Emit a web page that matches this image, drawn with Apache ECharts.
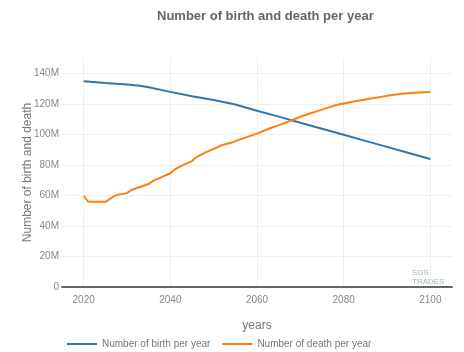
<!DOCTYPE html>
<html>
<head>
<meta charset="utf-8">
<script src="https://cdn.jsdelivr.net/npm/echarts@6/dist/echarts.min.js"></script>
<style>
  html, body { margin: 0; padding: 0; background: #fff; }
  #main { width: 464px; height: 352px; }
</style>
</head>
<body>
<div id="main"></div>
<script>
// births per year (millions)
var birthYears = [2020, 2025, 2030, 2033, 2035, 2040, 2045, 2050, 2055, 2060, 2065, 2070, 2075, 2080, 2085, 2090, 2095, 2100];
var birthValues = [134.7, 133.6, 132.6, 131.8, 130.8, 127.8, 125.0, 122.5, 119.5, 115.5, 111.6, 107.6, 103.7, 99.7, 95.7, 91.8, 87.8, 83.8];

// deaths per year (millions)
var deathYears = [2020, 2021, 2022, 2025, 2026, 2027, 2028, 2030, 2031, 2032, 2034, 2035, 2036, 2038, 2040, 2041, 2043, 2045, 2046, 2048, 2050, 2052, 2054, 2056, 2058, 2060, 2063, 2066, 2068, 2070, 2072, 2075, 2078, 2080, 2083, 2086, 2090, 2093, 2096, 2100];
var deathValues = [59.7, 56.0, 55.8, 55.8, 57.5, 59.5, 60.5, 61.5, 63.5, 64.5, 66.5, 67.5, 69.5, 72.0, 74.5, 77.0, 80.0, 82.5, 85.0, 88.0, 90.5, 93.0, 94.5, 96.5, 98.5, 100.5, 104.0, 107.0, 109.2, 111.5, 113.5, 116.2, 119.0, 120.2, 121.8, 123.3, 125.2, 126.4, 127.2, 127.8];

var xTicks = [2020, 2040, 2060, 2080, 2100];
var yTicks = [0, 20e6, 40e6, 60e6, 80e6, 100e6, 120e6, 140e6];

function pairs(xs, ys) {
    return xs.map(function (x, i) { return [x, ys[i] * 1e6]; });
}

var myChart = echarts.init(document.getElementById('main'));

var option = {
    backgroundColor: '#fff',
    textStyle: { fontFamily: 'Liberation Sans, Arial, sans-serif' },
    title: {
        text: 'Number of birth and death per year',
        left: 152,
        top: 5,
        textStyle: { fontSize: 13, fontWeight: 'bold', color: '#666' }
    },
    grid: { left: 62, right: 12, top: 58, bottom: 65 },
    legend: {
        top: 334,
        left: 62,
        icon: 'rect',
        itemWidth: 30,
        itemHeight: 2,
        itemGap: 12,
        textStyle: { fontSize: 10, color: '#777' },
        data: ['Number of birth per year', 'Number of death per year']
    },
    xAxis: {
        type: 'value',
        min: 2015,
        max: 2105,
        name: 'years',
        nameLocation: 'middle',
        nameGap: 33,
        nameTextStyle: { fontSize: 12, color: '#777' },
        axisLine: { show: true, onZero: false, lineStyle: { color: '#666', width: 2 } },
        axisTick: { show: false, customValues: xTicks },
        axisLabel: {
            customValues: xTicks,
            color: '#888',
            fontSize: 10,
            margin: 8,
            formatter: function (v) { return String(v); }
        },
        splitLine: { show: true, lineStyle: { color: '#eee' } }
    },
    yAxis: {
        type: 'value',
        min: 0,
        max: 150e6,
        name: 'Number of birth and death',
        nameLocation: 'middle',
        nameGap: 28,
        nameMoveOverlap: false,
        nameTextStyle: { fontSize: 12, color: '#777' },
        axisLine: { show: false },
        axisTick: { show: false, customValues: yTicks },
        axisLabel: {
            customValues: yTicks,
            color: '#888',
            fontSize: 10,
            margin: 3,
            formatter: function (v) { return v === 0 ? '0' : (v / 1e6) + 'M'; }
        },
        splitLine: { show: true, lineStyle: { color: '#eee' } }
    },
    graphic: [{
        type: 'text',
        left: 412,
        top: 268,
        style: { text: 'SOS\nTRADES', fill: '#9bb', fontSize: 8, align: 'center', lineHeight: 9 }
    }],
    series: [
        {
            name: 'Number of birth per year',
            type: 'line',
            symbol: 'none',
            color: '#2f75b1',
            lineStyle: { width: 2 },
            data: pairs(birthYears, birthValues)
        },
        {
            name: 'Number of death per year',
            type: 'line',
            symbol: 'none',
            color: '#ff7f0e',
            lineStyle: { width: 2 },
            data: pairs(deathYears, deathValues)
        }
    ]
};

myChart.setOption(option);
</script>
</body>
</html>
